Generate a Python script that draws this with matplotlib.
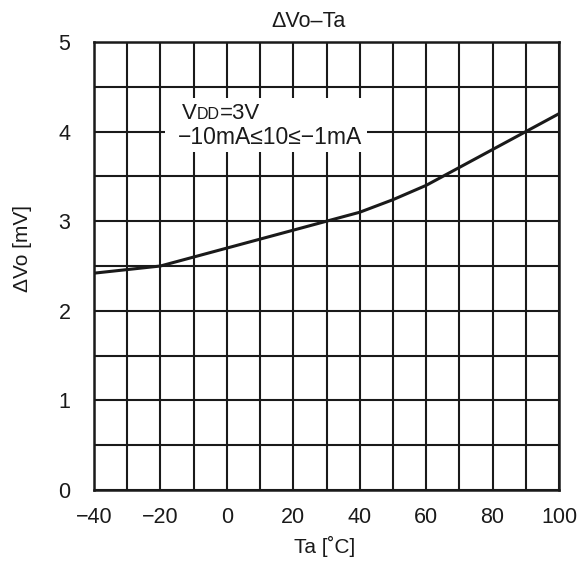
import numpy as np
import matplotlib
matplotlib.use('Agg')
import matplotlib.pyplot as plt
from matplotlib.patches import Rectangle

plt.rcParams['font.family'] = ['Liberation Sans', 'DejaVu Sans']

# Valeurs
ta = [-40, -30, -20, -10, 0, 10, 20, 30, 40, 50, 60, 70, 80, 90, 100]
dvo = [2.42, 2.46, 2.50, 2.60, 2.70, 2.80, 2.90, 3.00, 3.10, 3.24, 3.40, 3.60, 3.80, 4.00, 4.20]

x_ticks = [-40, -20, 0, 20, 40, 60, 80, 100]
x_ticklabels = ['\u221240', '\u221220', '0', '20', '40', '60', '80', '100']
y_ticks = [0, 1, 2, 3, 4, 5]

ink = '#1a1a1a'
W, H = 579, 566

fig = plt.figure(figsize=(5.79, 5.66), dpi=100)
ax = fig.add_axes([94 / W, 76 / H, 465 / W, 448 / H])

# Grille fine
for gx in np.arange(-40, 101, 10):
    ax.axvline(gx, color=ink, lw=1.5, zorder=1)
for gy in np.arange(0, 5.01, 0.5):
    ax.axhline(gy, color=ink, lw=1.5, zorder=1)

ax.plot(ta, dvo, color=ink, lw=2.2, zorder=3)

ax.set_xlim(-40, 100)
ax.set_ylim(0, 5)
ax.set_xticks(x_ticks)
ax.set_xticklabels(x_ticklabels)
ax.set_yticks(y_ticks)
ax.tick_params(length=0, labelsize=15.5, colors=ink)
ax.tick_params(axis='x', pad=12)
ax.tick_params(axis='y', pad=17)
for s in ax.spines.values():
    s.set_linewidth(1.8)
    s.set_color(ink)
    s.set_zorder(5)

# Titre et libellés des axes
fig.text(308 / W, 1 - 27 / H, '\u0394Vo\u2013Ta', fontsize=15.5, color=ink,
         ha='center', va='baseline')
fig.text(325 / W, 1 - 553 / H, 'Ta [\u02daC]', fontsize=15, color=ink,
         ha='center', va='baseline')
fig.text(22 / W, 1 - 249 / H, '\u0394Vo [mV]', fontsize=15, color=ink,
         ha='center', va='center', rotation=90)

# Cartouche des conditions de mesure
ax.add_patch(Rectangle((-18.6, 3.77), 60.8, 0.6, facecolor='white',
                       edgecolor='none', zorder=2))
y1 = 4.14
v = ax.text(-13.5, y1, 'V', fontsize=16, color=ink, va='baseline', zorder=4)
dd = ax.annotate('DD', xy=(1, y1), xycoords=(v, 'data'), fontsize=11.5,
                 color=ink, va='baseline', zorder=4)
ax.annotate('=3V', xy=(1, y1), xycoords=(dd, 'data'), fontsize=16, color=ink,
            va='baseline', zorder=4)
ax.text(-14.7, 3.86, '\u221210mA\u226410\u2264\u22121mA', fontsize=16.5, color=ink,
        va='baseline', zorder=4)

plt.savefig('out.png', dpi=100)
